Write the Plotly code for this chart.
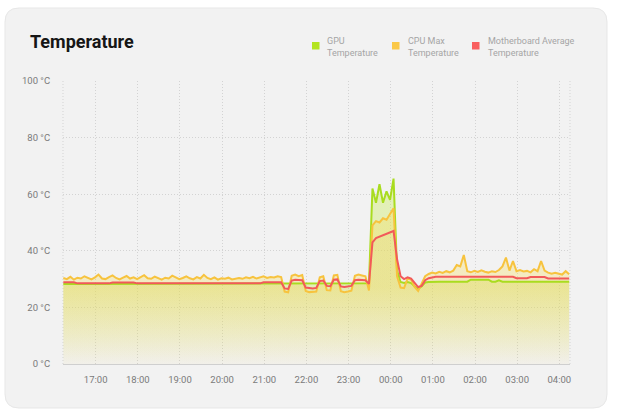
import plotly.graph_objects as go
import pandas as pd

# ---------------- data (5-minute samples, 16:14 -> 04:14) ----------------
times = pd.date_range("2024-01-01 16:14", periods=145, freq="5min")

gpu_temp = [
    28.3, 28.3, 28.3, 28.3, 28.3, 28.3, 28.3, 28.3, 28.3, 28.3,
    28.3, 28.3, 28.3, 28.3, 28.3, 28.3, 28.3, 28.3, 28.3, 28.3,
    28.3, 28.3, 28.3, 28.3, 28.3, 28.3, 28.3, 28.3, 28.3, 28.3,
    28.3, 28.3, 28.3, 28.3, 28.3, 28.3, 28.3, 28.3, 28.3, 28.3,
    28.3, 28.3, 28.3, 28.3, 28.3, 28.3, 28.3, 28.3, 28.3, 28.3,
    28.3, 28.3, 28.3, 28.3, 28.3, 28.3, 28.3, 28.3, 28.3, 28.3,
    28.3, 28.3, 28.3,
    28.5, 28.5, 28.5, 28.5, 28.5, 28.5, 28.5, 28.5, 28.5, 28.5,
    28.5, 28.5, 28.5, 28.5, 28.5, 28.5, 28.5, 28.5, 28.5, 28.5,
    28.5, 28.5, 28.5, 28.5, 28.5,
    62.0, 57.0, 63.5, 57.0, 61.0, 58.0, 65.5,
    33.0,
    29.0, 28.6, 29.0, 28.6, 27.5, 26.5, 27.5, 28.8, 29.0, 29.1,
    29.1, 29.1, 29.1, 29.1, 29.1, 29.1, 29.1, 29.1, 29.1, 29.1,
    29.8, 29.8, 29.8, 29.8, 29.8, 29.8,
    29.1, 29.1, 29.6, 29.1, 29.1, 29.1, 29.1, 29.1, 29.1, 29.1,
    29.1, 29.1, 29.1, 29.1, 29.1, 29.1, 29.1, 29.1, 29.1, 29.1,
    29.1, 29.1, 29.1,
]

cpu_max = [
    30.4, 30.0, 30.8, 29.8, 30.5, 30.2, 31.0, 30.3, 29.9, 30.6,
    31.6, 30.2, 30.0, 30.7, 31.3, 30.4, 29.9, 30.5, 31.1, 30.2,
    30.6, 30.0, 30.8, 31.4, 30.3, 30.1, 30.9, 30.4, 29.8, 30.5,
    30.2, 31.2, 30.6, 30.0, 30.4, 31.0, 30.3, 29.9, 30.7, 30.2,
    31.5, 30.4, 30.0, 30.6, 29.8, 30.3, 30.1, 30.5, 29.9, 30.2,
    30.4, 30.1, 30.6, 30.3, 30.8, 30.2, 30.5, 31.0, 30.4, 30.7,
    30.6, 31.0, 30.7,
    25.6, 25.3,
    31.2, 31.6, 31.0, 31.4,
    25.8, 25.4, 25.5, 25.6,
    30.6, 31.0,
    26.1, 26.0,
    31.3, 31.5,
    25.7, 25.4, 25.6, 25.9,
    31.2, 31.6, 31.3, 31.0,
    26.0,
    49.0, 50.5, 50.0, 51.5, 51.0, 53.0, 55.0,
    31.0,
    27.0, 26.8, 30.2, 29.8, 27.2, 25.8, 28.5, 31.0, 31.8, 32.3,
    32.0, 32.6, 32.2, 32.8, 32.4, 33.0,
    35.0, 34.5, 38.5, 32.8,
    32.4, 32.9, 32.5, 33.1, 32.6, 32.3,
    32.8, 32.5,
    33.2, 34.5, 37.6, 33.0, 36.4, 32.8,
    33.2, 32.7, 32.9, 32.4,
    33.5, 32.8, 36.4, 33.0,
    32.3, 31.9, 32.2, 31.8, 31.6,
    32.8, 31.7,
]

mb_avg = [
    28.9, 28.9, 28.9, 28.9, 28.5, 28.5, 28.5, 28.5, 28.5, 28.5,
    28.5, 28.5, 28.5, 28.5, 28.8, 28.8, 28.8, 28.8, 28.8, 28.8,
    28.8, 28.5, 28.5, 28.5, 28.5, 28.5, 28.5, 28.5, 28.5, 28.5,
    28.5, 28.5, 28.5, 28.5, 28.5, 28.5, 28.5, 28.5, 28.5, 28.5,
    28.5, 28.7, 28.7, 28.7, 28.7, 28.7, 28.7, 28.7, 28.5, 28.5,
    28.5, 28.5, 28.5, 28.5, 28.5, 28.5, 28.5, 28.9, 28.9, 28.9,
    28.9, 28.9, 28.9,
    26.7, 26.5,
    29.5, 29.8, 29.7, 29.6,
    27.0, 26.8, 26.7, 26.9,
    29.3, 29.5,
    27.6, 27.5,
    29.8, 29.9,
    27.4, 27.2, 27.3, 27.6,
    29.6, 29.8, 29.7, 29.6,
    28.3,
    43.0, 44.5, 45.0, 45.5, 46.0, 46.5, 47.0,
    37.0,
    31.0, 30.0, 30.6, 30.2, 28.8, 27.2, 27.6, 29.6, 30.3, 30.6,
    30.8, 30.8, 30.8, 30.8, 30.9, 30.8, 30.8, 30.8, 30.8, 30.8,
    30.8, 30.9, 30.8, 30.8, 30.8, 30.8, 30.8, 30.8, 30.8, 30.8,
    30.8, 30.8, 30.8,
    30.3, 30.3, 30.3, 30.3,
    30.7, 30.7, 30.7, 30.7, 30.7,
    30.2, 30.2, 30.2, 30.2, 30.2, 30.2, 30.2,
]

series_names = ["GPU<br>Temperature", "CPU Max<br>Temperature", "Motherboard Average<br>Temperature"]
y_ticks = [0, 20, 40, 60, 80, 100]
y_tick_labels = ["0 °C", "20 °C", "40 °C", "60 °C", "80 °C", "100 °C"]

assert len(gpu_temp) == len(times), len(gpu_temp)
assert len(cpu_max) == len(times), len(cpu_max)
assert len(mb_avg) == len(times), len(mb_avg)

# ---------------- styling ----------------
W, H = 617, 410
L, R, T, B = 63, 570, 81, 364  # plot area in pixels
FONT = "Roboto"
GRID = "#d3d3d3"
DOTS = "1px,2px"

line_colors = ["#a9dc1f", "#f7c33e", "#f25959"]
square_colors = ["#b3e420", "#fac847", "#f95f5f"]
fill_rgb = ["200,235,80", "248,218,80", "245,140,90"]
fill_alpha = [0.36, 0.30, 0.05]


def px2x(px):
    return (px - L) / (R - L)


def py2y(py):
    return (B - py) / (B - T)


fig = go.Figure()

series = [gpu_temp, cpu_max, mb_avg]

# fills first (below all lines)
for vals, rgb, a in zip(series, fill_rgb, fill_alpha):
    fig.add_trace(go.Scatter(
        x=times, y=vals, mode="lines", line=dict(width=0),
        fill="tozeroy",
        fillgradient=dict(
            type="vertical",
            colorscale=[[0, f"rgba({rgb},0.02)"], [0.45, f"rgba({rgb},{a})"], [1, f"rgba({rgb},{a})"]],
            start=0, stop=60,
        ),
        showlegend=False, hoverinfo="skip",
    ))

# lines
for vals, name, col in zip(series, series_names, line_colors):
    fig.add_trace(go.Scatter(
        x=times, y=vals, mode="lines", name=name,
        line=dict(color=col, width=2),
        showlegend=False,
    ))

shapes = []
# card background with rounded corners
cx0, cx1, cy0, cy1 = px2x(5), px2x(607), py2y(408), py2y(8)
rx, ry = 14 / (R - L), 14 / (B - T)
card_path = (
    f"M {cx0 + rx},{cy1} L {cx1 - rx},{cy1} Q {cx1},{cy1} {cx1},{cy1 - ry} "
    f"L {cx1},{cy0 + ry} Q {cx1},{cy0} {cx1 - rx},{cy0} "
    f"L {cx0 + rx},{cy0} Q {cx0},{cy0} {cx0},{cy0 + ry} "
    f"L {cx0},{cy1 - ry} Q {cx0},{cy1} {cx0 + rx},{cy1} Z"
)
shapes.append(dict(type="path", path=card_path, xref="paper", yref="paper",
                   fillcolor="#f2f2f2", line=dict(color="#e7e7e7", width=1), layer="below"))
# dotted edges of plot area
for xe in (0, 1):
    shapes.append(dict(type="line", xref="paper", yref="paper", x0=xe, x1=xe, y0=0, y1=1,
                       line=dict(color=GRID, width=1, dash=DOTS), layer="below"))

annotations = [dict(
    text="<b>Temperature</b>", x=px2x(28), y=py2y(42), xref="paper", yref="paper",
    xanchor="left", yanchor="middle", showarrow=False,
    font=dict(family=FONT, size=18, color="#161616"),
)]

# legend (square swatches + two-line labels)
sq_x = [312, 392, 472]
txt_x = [325, 406, 486]
for i in range(3):
    shapes.append(dict(type="rect", xref="paper", yref="paper",
                       x0=px2x(sq_x[i]), x1=px2x(sq_x[i] + 7.5), y0=py2y(49.5), y1=py2y(42),
                       fillcolor=square_colors[i], line=dict(width=0)))
    annotations.append(dict(
        text=series_names[i], x=px2x(txt_x[i]), y=py2y(46.5), xref="paper", yref="paper",
        xanchor="left", yanchor="middle", align="left", showarrow=False,
        font=dict(family=FONT, size=9, color="#a5a5a5"),
    ))

fig.update_layout(
    width=W, height=H,
    margin=dict(l=L, r=W - R, t=T, b=H - B, pad=0, autoexpand=False),
    paper_bgcolor="white",
    plot_bgcolor="rgba(0,0,0,0)",
    showlegend=False,
    shapes=shapes,
    annotations=annotations,
    font=dict(family=FONT, size=10, color="#777777"),
    xaxis=dict(
        type="date",
        range=["2024-01-01 16:13:30", "2024-01-02 04:15:10"],
        tickformat="%H:%M", dtick=3600000, tick0="2024-01-01 00:00",
        showgrid=True, gridcolor=GRID, griddash=DOTS, gridwidth=1,
        showline=True, linecolor="#cfcfcf", linewidth=1,
        ticks="outside", ticklen=7, tickcolor="rgba(0,0,0,0)",
        tickfont=dict(family=FONT, size=9.5, color="#7a7a7a"),
        zeroline=False, fixedrange=True, automargin=False,
    ),
    yaxis=dict(
        range=[0, 100], tickmode="array", tickvals=y_ticks, ticktext=y_tick_labels,
        showgrid=True, gridcolor=GRID, griddash=DOTS, gridwidth=1,
        showline=False, zeroline=False,
        ticks="outside", ticklen=10, tickcolor="rgba(0,0,0,0)",
        tickfont=dict(family=FONT, size=9.5, color="#7a7a7a"),
        fixedrange=True, automargin=False,
    ),
)

# remove the browser's default 8px body margin so the figure sits at the window origin
fig.write_html(
    "out.html",
    config={"displayModeBar": False, "staticPlot": False},
    post_script="document.body.style.margin='0';document.body.style.overflow='hidden';",
)
